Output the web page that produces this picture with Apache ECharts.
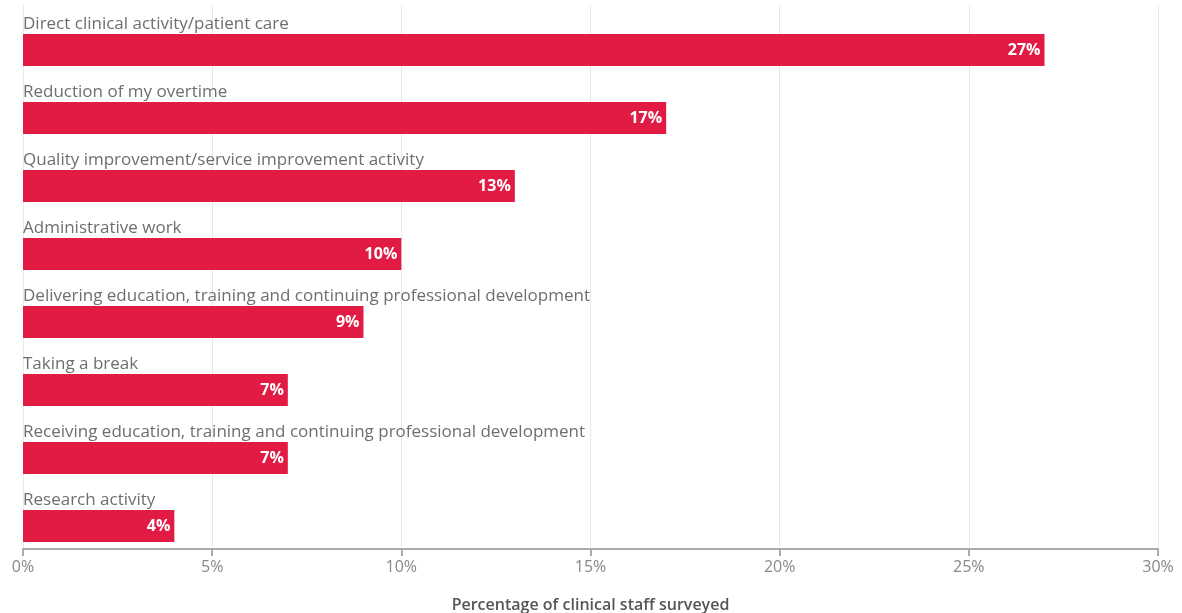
<!DOCTYPE html>
<html>
<head>
<meta charset="utf-8">
<script src="https://cdn.jsdelivr.net/npm/echarts@6/dist/echarts.min.js"></script>
<style>
  html, body { margin: 0; padding: 0; background: #fff; }
  #chart { width: 1182px; height: 613px; }
</style>
</head>
<body>
<div id="chart"></div>
<script>
var categories = [
  'Direct clinical activity/patient care',
  'Reduction of my overtime',
  'Quality improvement/service improvement activity',
  'Administrative work',
  'Delivering education, training and continuing professional development',
  'Taking a break',
  'Receiving education, training and continuing professional development',
  'Research activity'
]
var values = [27, 17, 13, 10, 9, 7, 7, 4]
var xMax = 30

// invisible full-width bars that carry the category names above each real bar
var nameRow = categories.map(function () { return xMax })

var chart = echarts.init(document.getElementById('chart'))
var option = {
  animation: false,
  textStyle: { fontFamily: '"Open Sans", Arial, sans-serif' },
  grid: { left: 23, right: 24, top: 5, bottom: 64, containLabel: false, outerBoundsMode: 'none' },
  xAxis: {
    type: 'value',
    min: 0,
    max: xMax,
    interval: 5,
    name: 'Percentage of clinical staff surveyed',
    nameLocation: 'middle',
    nameGap: 48,
    nameTextStyle: { color: '#555', fontSize: 16, fontWeight: 600 },
    axisLine: { show: true, lineStyle: { color: '#aaa', width: 2 } },
    axisTick: { show: true, length: 7, lineStyle: { color: '#aaa', width: 2 } },
    axisLabel: { color: '#888', fontSize: 16, margin: 10, formatter: '{value}%' },
    splitLine: { show: true, lineStyle: { color: '#e8e8e8', width: 1 } }
  },
  yAxis: {
    type: 'category',
    inverse: true,
    data: categories,
    axisLine: { show: false },
    axisTick: { show: false },
    axisLabel: { show: false }
  },
  series: [
    {
      type: 'bar',
      data: nameRow,
      barWidth: 32,
      barGap: '-31.25%',
      silent: true,
      itemStyle: { color: 'rgba(0,0,0,0)' },
      label: {
        show: true,
        position: 'insideLeft',
        distance: 0,
        offset: [0, -4],
        color: '#6e6e6e',
        fontSize: 17,
        formatter: function (p) { return categories[p.dataIndex] }
      }
    },
    {
      type: 'bar',
      data: values,
      barWidth: 32,
      barGap: '-31.25%',
      z: 3,
      itemStyle: { color: '#e11b44' },
      label: {
        show: true,
        position: 'insideRight',
        distance: 4,
        color: '#fff',
        fontSize: 16,
        fontWeight: 'bold',
        formatter: '{c}%'
      }
    }
  ]
}
chart.setOption(option)
</script>
</body>
</html>
